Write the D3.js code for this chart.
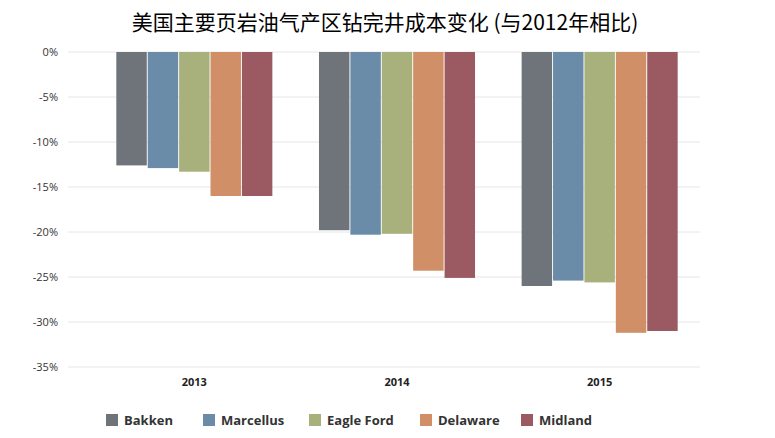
<!DOCTYPE html>
<html><head><meta charset="utf-8">
<script src="https://cdn.jsdelivr.net/npm/d3@7"></script>
<style>body{margin:0;background:#fff;font-family:"Open Sans","Noto Sans",sans-serif;}</style>
</head><body>
<svg id="chart" width="775" height="438"></svg>
<script>
// Data
const years = ['2013', '2014', '2015'];
const regions = ['Bakken', 'Marcellus', 'Eagle Ford', 'Delaware', 'Midland'];
const colors = ['#6f747b', '#6a8ca8', '#a8b07c', '#d08f66', '#9b5a62'];
const values = [
    [-12.6, -12.9, -13.3, -16.0, -16.0],
    [-19.8, -20.3, -20.2, -24.3, -25.1],
    [-26.0, -25.4, -25.6, -31.2, -31.0]
];
const yTicks = [0, -5, -10, -15, -20, -25, -30, -35];

const svg = d3.select('#chart');
const plotLeft = 68, plotRight = 700, plotTop = 52, plotBottom = 367;

svg.append('text')
    .attr('x', 385).attr('y', 30)
    .attr('text-anchor', 'middle')
    .attr('font-size', 21)
    .attr('font-family', '"Noto Sans CJK SC", sans-serif')
    .text('美国主要页岩油气产区钻完井成本变化 (与2012年相比)');

const y = d3.scaleLinear().domain([0, -35]).range([plotTop, plotBottom]);
const x0 = d3.scaleBand().domain(years).range([92, 702]).paddingInner(0.23).paddingOuter(0.12);
const x1 = d3.scaleBand().domain(regions).range([0, x0.bandwidth()]).paddingInner(0.03);

// grid + y labels
const yAxis = svg.append('g');
yAxis.selectAll('line').data(yTicks).enter().append('line')
    .attr('x1', plotLeft).attr('x2', plotRight)
    .attr('y1', d => y(d)).attr('y2', d => y(d))
    .attr('stroke', '#e6e6e6');
yAxis.selectAll('text').data(yTicks).enter().append('text')
    .attr('x', 58).attr('y', d => y(d) + 4)
    .attr('text-anchor', 'end')
    .attr('font-size', 11).attr('fill', '#333')
    .text(d => d + '%');

// bars
const groups = svg.selectAll('.grp').data(values).enter().append('g')
    .attr('transform', (d, i) => `translate(${x0(years[i])},0)`);
groups.selectAll('rect').data(d => d).enter().append('rect')
    .attr('x', (d, i) => x1(regions[i]))
    .attr('width', x1.bandwidth())
    .attr('y', y(0))
    .attr('height', d => y(d) - y(0))
    .attr('fill', (d, i) => colors[i]);

// x labels
svg.selectAll('.xl').data(years).enter().append('text')
    .attr('x', d => x0(d) + x0.bandwidth() / 2).attr('y', 386)
    .attr('text-anchor', 'middle')
    .attr('font-size', 11).attr('font-weight', 'bold').attr('fill', '#222')
    .text(d => d);

// legend
const legendX = [106, 203, 309, 420, 521];
const lg = svg.selectAll('.lg').data(regions).enter().append('g')
    .attr('transform', (d, i) => `translate(${legendX[i]},414)`);
lg.append('rect').attr('width', 12).attr('height', 12).attr('fill', (d, i) => colors[i]);
lg.append('text').attr('x', 18).attr('y', 11)
    .attr('font-size', 13).attr('font-weight', 'bold').attr('fill', '#333')
    .text(d => d);
</script>
</body></html>
